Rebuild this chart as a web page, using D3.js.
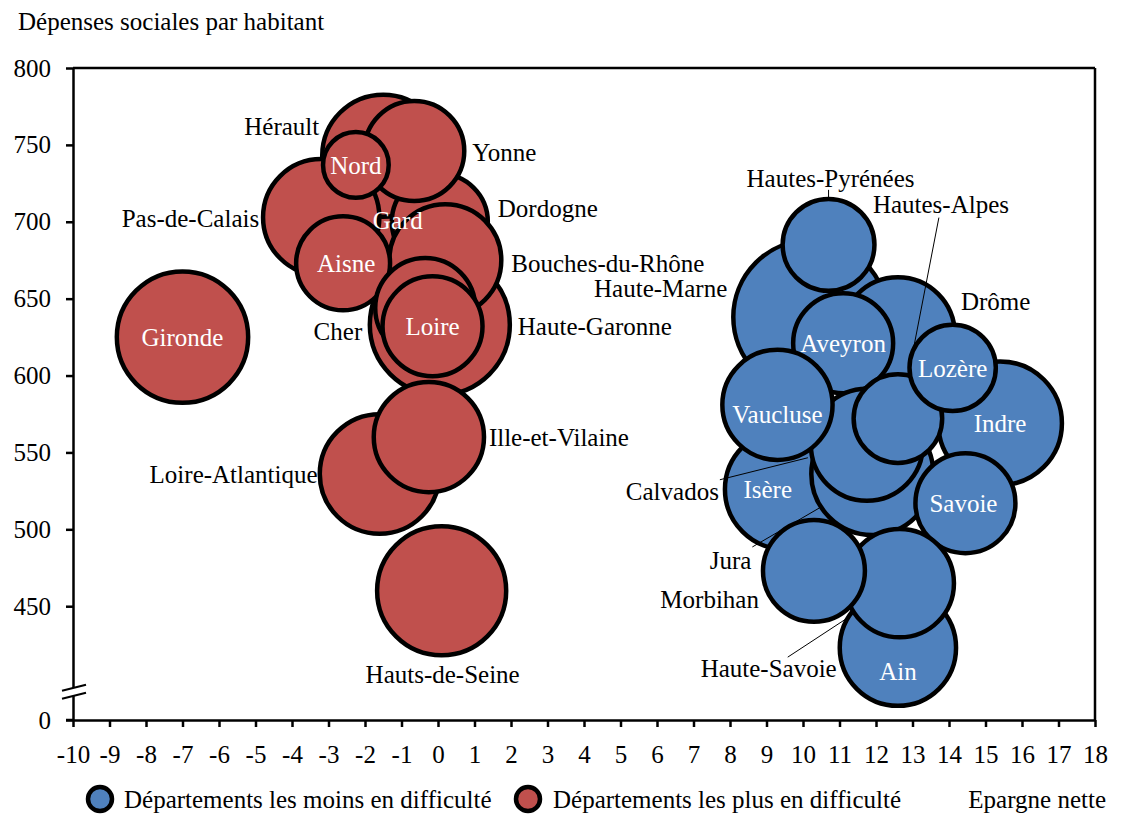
<!DOCTYPE html>
<html>
<head>
<meta charset="utf-8">
<script src="https://cdn.jsdelivr.net/npm/d3@7"></script>
<style>
  html, body { margin: 0; padding: 0; background: #fff; }
  svg { display: block; font-family: "Liberation Serif", "Times New Roman", serif; }
</style>
</head>
<body>
<svg id="chart" width="1134" height="824"></svg>
<script>
// ---------- DATA ----------
// Red series: départements les plus en difficulté (drawing order back to front)
const redNames = ["Gard", "Hérault", "Pas-de-Calais", "Dordogne", "Yonne", "Nord", "Haute-Garonne",
  "Bouches-du-Rhône", "Aisne", "Cher", "Loire", "Gironde", "Loire-Atlantique", "Ille-et-Vilaine", "Hauts-de-Seine"];
const redX = [-1.1, -1.5, -3.2, 0.05, -0.65, -2.25, 0.05, 0.2, -2.6, -0.35, -0.15, -7.0, -1.6, -0.25, 0.1];
const redY = [700, 743, 703, 700, 746, 737, 633, 675, 673, 644, 632, 625, 536, 560, 460];
const redSize = [51, 76, 69, 47, 51, 22, 100, 64, 45, 51, 51, 88, 73, 62, 85];

// Blue series: départements les moins en difficulté
const blueNames = ["Haute-Marne", "Drôme", "Hautes-Pyrénées", "Aveyron", "Indre", "Isère", "Jura", "Calvados",
  "Hautes-Alpes", "Lozère", "Vaucluse", "Savoie", "Ain", "Haute-Savoie", "Morbihan"];
const blueX = [10.2, 12.6, 10.7, 11.1, 15.4, 9.5, 11.9, 11.75, 12.6, 14.1, 9.3, 14.45, 12.6, 12.65, 10.3];
const blueY = [638, 627, 685, 621, 569, 526, 536, 555, 572, 605, 581, 517, 423, 465, 473];
const blueSize = [121, 66, 43, 51, 78, 73, 76, 64, 40, 38, 62, 51, 69, 60, 53];

const xTicks = [-10, -9, -8, -7, -6, -5, -4, -3, -2, -1, 0, 1, 2, 3, 4, 5, 6, 7, 8, 9, 10, 11, 12, 13, 14, 15, 16, 17, 18];
const yTicks = [450, 500, 550, 600, 650, 700, 750, 800];
const yMin = 376;          // bottom of the (broken) axis, labelled "0"
const yBreak = 397;        // where the axis break marks sit
const yTitle = "Dépenses sociales par habitant";
const xTitle = "Epargne nette";
const legendLabels = ["Départements les moins en difficulté", "Départements les plus en difficulté"];

// ---------- LAYOUT ----------
const COLORS = { blue: "#4F81BD", red: "#C0504D" };
const FONT = 25;
const svg = d3.select("#chart");
const x = d3.scaleLinear().domain([-10, 18]).range([73, 1095]);
const y = d3.scaleLinear().domain([yMin, 800]).range([720, 68]);
const r = d3.scaleSqrt().domain([0, 100]).range([0, 70]);

// label placement (pixel offsets from bubble centre)
const labelLayout = {
  "Hérault": { dx: -64, dy: -29, anchor: "end" },
  "Yonne": { dx: 58, dy: 1, anchor: "start" },
  "Pas-de-Calais": { dx: -62, dy: 1, anchor: "end" },
  "Gard": { dx: 0, dy: -2, anchor: "middle", inside: true },
  "Dordogne": { dx: 58, dy: -14, anchor: "start" },
  "Nord": { dx: 0, dy: 0, anchor: "middle", inside: true },
  "Bouches-du-Rhône": { dx: 66, dy: 3, anchor: "start" },
  "Aisne": { dx: 3, dy: 0, anchor: "middle", inside: true },
  "Haute-Garonne": { dx: 78, dy: 1, anchor: "start" },
  "Cher": { dx: -63, dy: 23, anchor: "end" },
  "Loire": { dx: 0, dy: 0, anchor: "middle", inside: true },
  "Gironde": { dx: 0, dy: 0, anchor: "middle", inside: true },
  "Loire-Atlantique": { dx: -62, dy: 0, anchor: "end" },
  "Ille-et-Vilaine": { dx: 60, dy: 0, anchor: "start" },
  "Hauts-de-Seine": { dx: 1, dy: 83, anchor: "middle" },
  "Haute-Marne": { dx: -83, dy: -29, anchor: "end" },
  "Drôme": { dx: 63, dy: -33, anchor: "start" },
  "Hautes-Pyrénées": { dx: 2, dy: -67, anchor: "middle", leader: [0, -55, 0, -46] },
  "Aveyron": { dx: 0, dy: 0, anchor: "middle", inside: true },
  "Indre": { dx: 0, dy: 0, anchor: "middle", inside: true },
  "Isère": { dx: -17, dy: 0, anchor: "middle", inside: true },
  "Jura": { dx: -121, dy: 86, anchor: "end", leader: [-120, 73, -53, 34] },
  "Calvados": { dx: -148, dy: 47, anchor: "end", leader: [-147, 35, -59, 13] },
  "Hautes-Alpes": { dx: -25, dy: -214, anchor: "start", leader: [41, -201, 16, -72] },
  "Lozère": { dx: 0, dy: 0, anchor: "middle", inside: true },
  "Vaucluse": { dx: 0, dy: 9, anchor: "middle", inside: true },
  "Savoie": { dx: -2, dy: 0, anchor: "middle", inside: true },
  "Ain": { dx: 0, dy: 24, anchor: "middle", inside: true },
  "Haute-Savoie": { dx: -63, dy: 85, anchor: "end", leader: [-112, 74, -51, 34] },
  "Morbihan": { dx: -55, dy: 28, anchor: "end" }
};

const build = (names, xs, ys, sizes, color) =>
  names.map((n, i) => ({ name: n, x: xs[i], y: ys[i], size: sizes[i], color }));
const red = build(redNames, redX, redY, redSize, COLORS.red);
const blue = build(blueNames, blueX, blueY, blueSize, COLORS.blue);
const all = red.concat(blue);

// ---------- FRAME & AXES ----------
const AX = 2.5;
svg.append("line").attr("x1", x(-10)).attr("x2", x(18)).attr("y1", y(800)).attr("y2", y(800))
  .attr("stroke", "#000").attr("stroke-width", AX);
svg.append("line").attr("x1", x(18)).attr("x2", x(18)).attr("y1", y(800)).attr("y2", y(yMin))
  .attr("stroke", "#000").attr("stroke-width", AX);

const xAxis = svg.append("g").attr("transform", `translate(0,${y(yMin)})`)
  .call(d3.axisBottom(x).tickValues(xTicks).tickFormat(d => String(d)).tickSize(7).tickSizeOuter(0).tickPadding(18));
const yAxis = svg.append("g").attr("transform", `translate(${x(-10)},0)`)
  .call(d3.axisLeft(y).tickValues(yTicks.concat([yMin])).tickFormat(d => d === yMin ? "0" : String(d))
    .tickSize(7).tickSizeOuter(0).tickPadding(15));
[xAxis, yAxis].forEach(g => {
  g.selectAll("path.domain").attr("stroke", "#000").attr("stroke-width", AX);
  g.selectAll(".tick line").attr("stroke", "#000").attr("stroke-width", AX);
  g.selectAll(".tick text").attr("fill", "#000").style("font-size", FONT + "px")
    .style("font-family", "'Liberation Serif', serif");
});
// extend x domain line slightly left (as in reference)
svg.append("line").attr("x1", x(-10) - 7).attr("x2", x(-10)).attr("y1", y(yMin)).attr("y2", y(yMin))
  .attr("stroke", "#000").attr("stroke-width", AX);

// axis break
const by = y(yBreak);
const ax0 = x(-10);
svg.append("path")
  .attr("d", `M${ax0 - 11},${by + 3} L${ax0 + 13},${by - 3} L${ax0 + 13},${by + 5} L${ax0 - 11},${by + 11} Z`)
  .attr("fill", "#fff");
[[0], [8]].forEach(([o]) => {
  svg.append("line").attr("x1", ax0 - 11).attr("y1", by + 3 + o).attr("x2", ax0 + 13).attr("y2", by - 3 + o)
    .attr("stroke", "#000").attr("stroke-width", 2);
});

// axis titles
svg.append("text").attr("x", 18).attr("y", 30).text(yTitle)
  .style("font-size", FONT + "px").attr("fill", "#000");

// ---------- BUBBLES ----------
const gB = svg.append("g");
gB.selectAll("circle").data(all).join("circle")
  .attr("cx", d => x(d.x)).attr("cy", d => y(d.y)).attr("r", d => r(d.size))
  .attr("fill", d => d.color).attr("stroke", "#000").attr("stroke-width", 4.5);

// leader lines
const gL = svg.append("g");
all.filter(d => labelLayout[d.name] && labelLayout[d.name].leader).forEach(d => {
  const L = labelLayout[d.name].leader, cx = x(d.x), cy = y(d.y);
  gL.append("line").attr("x1", cx + L[0]).attr("y1", cy + L[1]).attr("x2", cx + L[2]).attr("y2", cy + L[3])
    .attr("stroke", "#000").attr("stroke-width", 1);
});

// labels
const gT = svg.append("g");
all.forEach(d => {
  const L = labelLayout[d.name];
  gT.append("text").attr("x", x(d.x) + L.dx).attr("y", y(d.y) + L.dy).attr("dy", "0.35em")
    .attr("text-anchor", L.anchor).attr("fill", L.inside ? "#fff" : "#000")
    .style("font-size", FONT + "px").text(d.name);
});

// ---------- LEGEND ----------
const leg = svg.append("g");
const legY = 799;
[[100, COLORS.blue, 124, legendLabels[0]], [528, COLORS.red, 553, legendLabels[1]]].forEach(([cx, col, tx, lab]) => {
  leg.append("circle").attr("cx", cx).attr("cy", legY).attr("r", 12).attr("fill", col)
    .attr("stroke", "#000").attr("stroke-width", 4.5);
  leg.append("text").attr("x", tx).attr("y", legY).attr("dy", "0.35em").style("font-size", FONT + "px")
    .attr("fill", "#000").text(lab);
});
leg.append("text").attr("x", 1106).attr("y", legY).attr("dy", "0.35em").attr("text-anchor", "end")
  .style("font-size", FONT + "px").attr("fill", "#000").text(xTitle);
</script>
</body>
</html>
